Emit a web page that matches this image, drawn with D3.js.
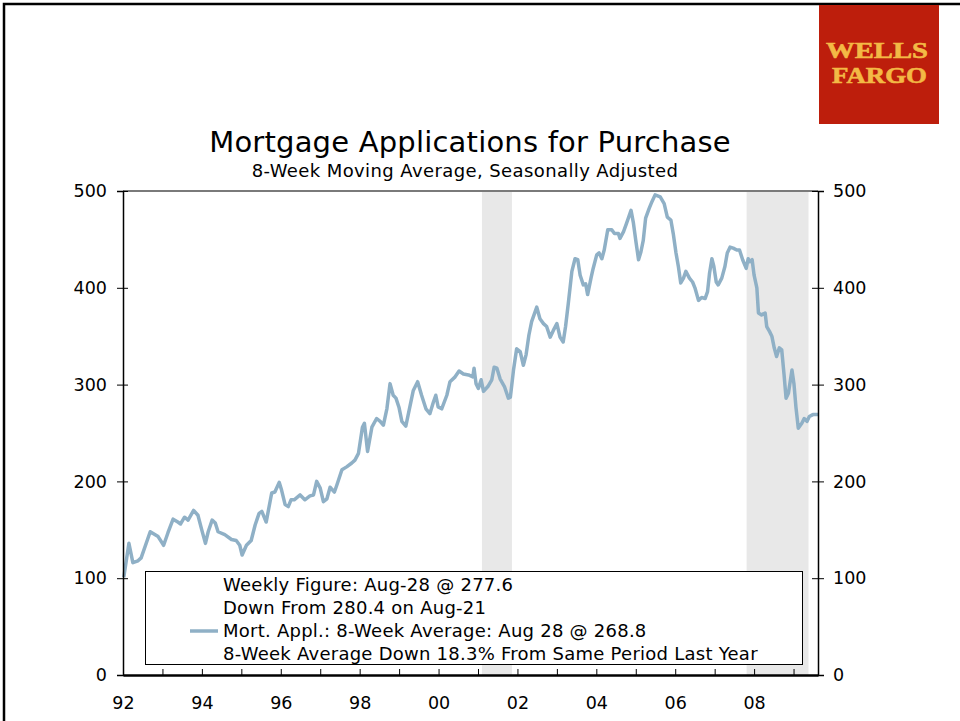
<!DOCTYPE html>
<html>
<head>
<meta charset="utf-8">
<script src="https://cdn.jsdelivr.net/npm/d3@7"></script>
<style>
  body { margin: 0; background: #fff; }
  svg { display: block; font-family: "DejaVu Sans", Verdana, sans-serif; }
</style>
</head>
<body>
<div id="chart"></div>
<script>
// dates as decimal years
const dates = [
  1992.02, 1992.15, 1992.25, 1992.38, 1992.46, 1992.69, 1992.89, 1993.03, 1993.14, 1993.27,
  1993.39, 1993.46, 1993.56, 1993.65, 1993.79, 1993.90, 1993.99, 1994.09, 1994.16, 1994.26,
  1994.34, 1994.41, 1994.58, 1994.75, 1994.87, 1994.96, 1995.02, 1995.13, 1995.25, 1995.35,
  1995.45, 1995.52, 1995.63, 1995.77, 1995.85, 1995.96, 1996.02, 1996.11, 1996.19, 1996.26,
  1996.34, 1996.49, 1996.61, 1996.74, 1996.83, 1996.91, 1997.00, 1997.08, 1997.17, 1997.25,
  1997.36, 1997.42, 1997.55, 1997.67, 1997.80, 1997.88, 1997.97, 1998.07, 1998.12, 1998.20,
  1998.31, 1998.43, 1998.52, 1998.60, 1998.69, 1998.77, 1998.85, 1998.92, 1999.00, 1999.07,
  1999.17, 1999.36, 1999.47, 1999.57, 1999.68, 1999.78, 1999.87, 1999.93, 1999.99, 2000.08,
  2000.21, 2000.29, 2000.42, 2000.52, 2000.63, 2000.76, 2000.87, 2000.90, 2000.95, 2001.01,
  2001.08, 2001.14, 2001.25, 2001.35, 2001.41, 2001.48, 2001.56, 2001.67, 2001.77, 2001.82,
  2001.90, 2001.98, 2002.07, 2002.15, 2002.22, 2002.29, 2002.36, 2002.49, 2002.57, 2002.66,
  2002.74, 2002.83, 2002.91, 2003.00, 2003.08, 2003.16, 2003.22, 2003.29, 2003.38, 2003.46,
  2003.53, 2003.59, 2003.67, 2003.73, 2003.78, 2003.87, 2003.92, 2004.01, 2004.07, 2004.14,
  2004.20, 2004.29, 2004.39, 2004.46, 2004.56, 2004.60, 2004.69, 2004.77, 2004.88, 2004.94,
  2005.01, 2005.07, 2005.13, 2005.19, 2005.25, 2005.34, 2005.41, 2005.49, 2005.62, 2005.72,
  2005.80, 2005.89, 2005.95, 2006.02, 2006.08, 2006.14, 2006.21, 2006.27, 2006.36, 2006.44,
  2006.50, 2006.59, 2006.67, 2006.76, 2006.82, 2006.87, 2006.93, 2006.98, 2007.04, 2007.09,
  2007.18, 2007.26, 2007.32, 2007.39, 2007.47, 2007.56, 2007.63, 2007.71, 2007.80, 2007.85,
  2007.90, 2007.95, 2008.00, 2008.07, 2008.11, 2008.19, 2008.28, 2008.32, 2008.39, 2008.45,
  2008.51, 2008.57, 2008.64, 2008.70, 2008.76, 2008.81, 2008.87, 2008.96, 2009.01, 2009.06,
  2009.12, 2009.21, 2009.27, 2009.34, 2009.40, 2009.49, 2009.59, 2009.62
];

const purchaseIndex = [
  101, 136, 116, 118, 121, 148, 143, 134, 147, 161,
  158, 156, 163, 160, 170, 165, 151, 136, 148, 160,
  157, 148, 145, 140, 139, 134, 124, 134, 139, 155,
  167, 169, 158, 188, 189, 199, 191, 176, 174, 181,
  181, 186, 181, 185, 186, 200, 193, 179, 182, 194,
  189, 196, 212, 215, 219, 222, 229, 256, 260, 231,
  256, 265, 262, 258, 275, 301, 289, 286, 276, 262,
  257, 294, 303, 289, 275, 270, 282, 289, 277, 275,
  289, 303, 308, 314, 311, 310, 308, 317, 301, 296,
  305, 293, 298, 305, 318, 317, 306, 298, 286, 287,
  315, 337, 334, 320, 331, 351, 365, 380, 368, 363,
  360, 349, 356, 363, 349, 344, 360, 384, 417, 430,
  429, 413, 403, 404, 393, 411, 420, 434, 436, 430,
  439, 460, 460, 456, 456, 451, 458, 467, 480, 467,
  446, 429, 437, 449, 472, 482, 489, 496, 494, 487,
  473, 470, 456, 436, 422, 405, 410, 417, 410, 406,
  400, 387, 390, 389, 396, 415, 430, 422, 406, 403,
  410, 422, 436, 442, 441, 439, 439, 429, 420, 430,
  427, 429, 413, 400, 374, 372, 374, 360, 355, 350,
  338, 329, 338, 336, 310, 286, 291, 315, 301, 277,
  255, 260, 265, 262, 267, 269, 269, 269
];

const recessionStart = [2001.10, 2007.81];
const recessionEnd = [2001.86, 2009.38];

const yTicks = [0, 100, 200, 300, 400, 500];
const xTickYears = d3.range(1992, 2010);
const xTickLabels = ["92", "94", "96", "98", "00", "02", "04", "06", "08"];

const title = "Mortgage Applications for Purchase";
const subtitle = "8-Week Moving Average, Seasonally Adjusted";
const legendLines = [
  "Weekly Figure: Aug-28 @ 277.6",
  "Down From 280.4 on Aug-21",
  "Mort. Appl.: 8-Week Average: Aug 28 @ 268.8",
  "8-Week Average Down 18.3% From Same Period Last Year"
];

const width = 960;
const height = 721;
const plot = { left: 123, right: 818, top: 191, bottom: 675 };
const lineColor = "#8fb0c6";

const svg = d3
  .select("#chart")
  .append("svg")
  .attr("width", width)
  .attr("height", height);

const x = d3.scaleLinear().domain([1992, 2009.62]).range([plot.left, plot.right]);
const y = d3.scaleLinear().domain([0, 500]).range([plot.bottom, plot.top]);

// page frame
svg.append("path")
  .attr("d", `M4,${height} V4 H${width}`)
  .attr("fill", "none")
  .attr("stroke", "#000")
  .attr("stroke-width", 2.5);

// logo
const logo = svg.append("g").attr("transform", "translate(819,5)");
logo.append("rect").attr("width", 120).attr("height", 119).attr("fill", "#bd1e0c");
logo.selectAll("text")
  .data(["WELLS", "FARGO"])
  .join("text")
  .attr("x", (d, i) => (i === 0 ? 7 : 13))
  .attr("y", (d, i) => 53 + i * 25)
  .attr("textLength", (d, i) => (i === 0 ? 102 : 95))
  .attr("lengthAdjust", "spacingAndGlyphs")
  .style("font-family", "'Liberation Serif', 'DejaVu Serif', serif")
  .style("font-weight", "bold")
  .style("font-size", "23px")
  .attr("fill", "#f3b945")
  .attr("stroke", "#f3b945")
  .attr("stroke-width", 0.6)
  .text((d) => d);

// titles
svg.append("text")
  .attr("x", 470)
  .attr("y", 152)
  .attr("text-anchor", "middle")
  .style("font-size", "29px")
  .style("letter-spacing", "0.2px")
  .text(title);

svg.append("text")
  .attr("x", 465)
  .attr("y", 177)
  .attr("text-anchor", "middle")
  .style("font-size", "18px")
  .style("letter-spacing", "0.4px")
  .text(subtitle);

// recession bands
svg.selectAll("rect.recession")
  .data(recessionStart)
  .join("rect")
  .attr("class", "recession")
  .attr("x", (d) => x(d))
  .attr("y", plot.top)
  .attr("width", (d, i) => x(recessionEnd[i]) - x(d))
  .attr("height", plot.bottom - plot.top)
  .attr("fill", "#e8e8e8");

// top frame line
svg.append("line")
  .attr("x1", plot.left)
  .attr("x2", plot.right)
  .attr("y1", plot.top)
  .attr("y2", plot.top)
  .attr("stroke", "#7a7a7a")
  .attr("stroke-width", 2);

// series
const line = d3.line()
  .x((d) => x(d))
  .y((d, i) => y(purchaseIndex[i]));

svg.append("path")
  .datum(dates)
  .attr("d", line)
  .attr("fill", "none")
  .attr("stroke", lineColor)
  .attr("stroke-width", 3.5)
  .attr("stroke-linejoin", "round");

// legend
const legend = svg.append("g");
legend.append("rect")
  .attr("x", 145.5)
  .attr("y", 571.5)
  .attr("width", 657)
  .attr("height", 93)
  .attr("fill", "#fff")
  .attr("stroke", "#000")
  .attr("stroke-width", 1);

legend.append("line")
  .attr("x1", 190)
  .attr("x2", 218)
  .attr("y1", 631)
  .attr("y2", 631)
  .attr("stroke", lineColor)
  .attr("stroke-width", 3.5);

legend.selectAll("text")
  .data(legendLines)
  .join("text")
  .attr("x", 223)
  .attr("y", (d, i) => 591 + i * 23)
  .style("font-size", "18px")
  .style("letter-spacing", "0.25px")
  .text((d) => d);

// axes
const leftAxis = d3.axisLeft(y).tickValues(yTicks).tickSize(6).tickPadding(10);
const gLeft = svg.append("g")
  .attr("transform", `translate(${plot.left},0)`)
  .call(leftAxis);
gLeft.selectAll(".tick line").attr("x1", 5);
gLeft.select(".domain").attr("stroke-width", 1.5);

const rightAxis = d3.axisRight(y).tickValues(yTicks).tickSize(6).tickPadding(9);
const gRight = svg.append("g")
  .attr("transform", `translate(${plot.right},0)`)
  .call(rightAxis);
gRight.selectAll(".tick line").attr("x1", -6);
gRight.select(".domain").attr("stroke-width", 1.5);

const bottomAxis = d3.axisBottom(x)
  .tickValues(xTickYears)
  .tickSizeInner(-6)
  .tickSizeOuter(0)
  .tickPadding(22)
  .tickFormat((d) => (d % 2 === 0 ? xTickLabels[(d - 1992) / 2] : ""));
const gBottom = svg.append("g")
  .attr("transform", `translate(0,${plot.bottom})`)
  .call(bottomAxis);
gBottom.select(".domain").attr("stroke-width", 2.5);

svg.selectAll(".tick text")
  .style("font-family", "'DejaVu Sans', Verdana, sans-serif")
  .style("font-size", "17.5px")
  .attr("fill", "#000");
</script>
</body>
</html>
